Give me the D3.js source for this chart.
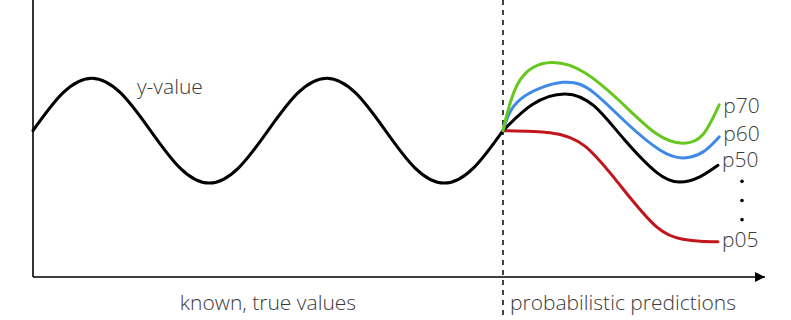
<!DOCTYPE html>
<html>
  <head>
    <meta charset="utf-8">
    <title>Probabilistic forecast sketch</title>
    <style>
      body { margin: 0; background: #fff; }
      text {
        font-family: "Open Sans", "Lato", sans-serif;
        font-weight: 300;
        fill: #3a3a3a;
      }
      .series { fill: none; stroke-width: 3px; stroke-linecap: round; }
      .axis-line { stroke: #000; stroke-width: 1.6px; }
    </style>
  </head>
  <body>
    <script src="https://d3js.org/d3.v7.min.js"></script>
    <script>
      const width = 791;
      const height = 320;

      // known history (time units, value)
      const histT = [0, 0.5, 1, 1.5, 2, 2.5, 3, 3.5, 4, 4.5, 5, 5.5, 6, 6.5, 7, 7.5, 8];
      const histV = [0, 0.71, 1, 0.71, 0, -0.71, -1, -0.71, 0, 0.71, 1, 0.71, 0, -0.71, -1, -0.71, 0];

      // quantile forecasts
      const p70T = [8, 8.3, 8.83, 9.4, 10.0, 10.6, 11.06, 11.4, 11.68];
      const p70V = [0, 0.98, 1.3, 1.1, 0.55, -0.05, -0.24, -0.08, 0.49];
      const p60T = [8, 8.3, 9.02, 9.55, 10.1, 10.67, 11.06, 11.4, 11.68];
      const p60V = [0, 0.6, 0.92, 0.72, 0.15, -0.37, -0.52, -0.41, -0.12];
      const p50T = [8, 8.5, 9.06, 9.55, 10.05, 10.62, 11.01, 11.35, 11.66];
      const p50V = [0, 0.5, 0.7, 0.47, -0.15, -0.8, -0.98, -0.88, -0.66];
      const p05T = [8, 8.8, 9.4, 10.0, 10.62, 11.06, 11.36, 11.66];
      const p05V = [0, -0.04, -0.3, -1.05, -1.84, -2.07, -2.11, -2.12];

      const forecasts = [
        { name: "p70", t: p70T, v: p70V, color: "#66c81e", dy: 8 },
        { name: "p60", t: p60T, v: p60V, color: "#3f8ae6", dy: 4 },
        { name: "p50", t: p50T, v: p50V, color: "#000000", dy: 2 },
        { name: "p05", t: p05T, v: p05V, color: "#c0161c", dy: 5 }
      ];

      const splitT = 8;
      const xMax = 12.46;

      const svg = d3.select("body")
        .append("svg")
        .attr("width", width)
        .attr("height", height);

      const x = d3.scaleLinear().domain([0, xMax]).range([33, 765]);
      const y = d3.scaleLinear().domain([-2.79, 2.49]).range([277, 0]);

      const line = d3.line()
        .x(d => x(d[0]))
        .y(d => y(d[1]))
        .curve(d3.curveNatural);

      // arrow head
      svg.append("defs").append("marker")
        .attr("id", "arrow")
        .attr("viewBox", "0 0 10 10")
        .attr("refX", 10)
        .attr("refY", 5)
        .attr("markerWidth", 10)
        .attr("markerHeight", 10)
        .attr("markerUnits", "userSpaceOnUse")
        .attr("orient", "auto")
        .append("path")
        .attr("d", "M0,0 L10,5 L0,10 Z")
        .attr("fill", "#000");

      // axes
      svg.append("line")
        .attr("class", "axis-line")
        .attr("x1", x(0)).attr("x2", x(0))
        .attr("y1", y.range()[1]).attr("y2", y.range()[0]);

      svg.append("line")
        .attr("class", "axis-line")
        .attr("x1", x(0)).attr("x2", x(xMax))
        .attr("y1", y.range()[0]).attr("y2", y.range()[0])
        .attr("marker-end", "url(#arrow)");

      // split between known and predicted
      svg.append("line")
        .attr("x1", x(splitT)).attr("x2", x(splitT))
        .attr("y1", 0).attr("y2", height)
        .attr("stroke", "#000")
        .attr("stroke-width", 1.5)
        .attr("stroke-dasharray", "5,5");

      // history
      svg.append("path")
        .attr("class", "series")
        .attr("stroke", "#000")
        .attr("d", line(histT.map((t, i) => [t, histV[i]])));

      svg.append("text")
        .attr("x", x(1.77))
        .attr("y", y(0.7))
        .attr("font-size", 21)
        .text("y-value");

      // forecasts (red first, the rest on top)
      forecasts.slice().reverse().forEach(f => {
        svg.append("path")
          .attr("class", "series")
          .attr("stroke", f.color)
          .attr("d", line(f.t.map((t, i) => [t, f.v[i]])));
      });

      forecasts.forEach(f => {
        const last = f.v.length - 1;
        svg.append("text")
          .attr("x", x(f.t[last]) + 4)
          .attr("y", y(f.v[last]) + f.dy)
          .attr("font-size", 21)
          .text(f.name);
      });

      // ellipsis dots between p50 and p05
      const p50End = y(p50V[p50V.length - 1]);
      const p05End = y(p05V[p05V.length - 1]);
      svg.selectAll(".dot")
        .data([0.21, 0.46, 0.71])
        .enter()
        .append("circle")
        .attr("class", "dot")
        .attr("cx", 742)
        .attr("cy", d => p50End + (p05End - p50End) * d)
        .attr("r", 1.8)
        .attr("fill", "#000");

      // bottom labels
      svg.append("text")
        .attr("x", (x(0) + x(splitT)) / 2)
        .attr("y", 310)
        .attr("text-anchor", "middle")
        .attr("font-size", 21)
        .text("known, true values");

      svg.append("text")
        .attr("x", x(splitT) + 7)
        .attr("y", 310)
        .attr("font-size", 21)
        .text("probabilistic predictions");
    </script>
  </body>
</html>
